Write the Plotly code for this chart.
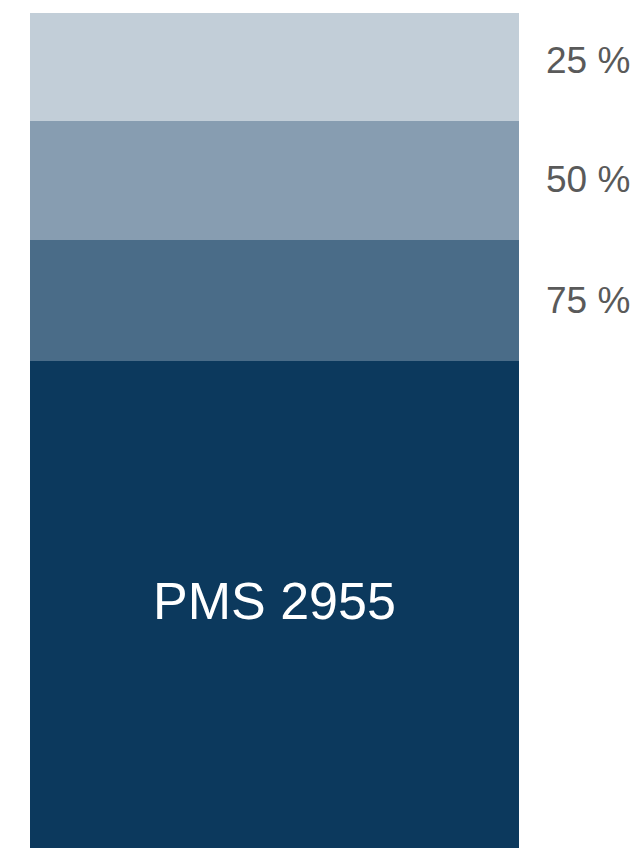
import plotly.graph_objects as go

# Swatch bands (bottom to top): name, relative height, colour
band_labels = ["100 %", "75 %", "50 %", "25 %"]
band_heights = [487, 121, 119, 108]
band_colors = ["#0c395d", "#4a6c88", "#879db1", "#c2ced8"]
swatch_name = "PMS 2955"
side_labels = ["75 %", "50 %", "25 %"]  # printed to the right of the tint bands

fig = go.Figure()
for lab, h, c in zip(band_labels, band_heights, band_colors):
    fig.add_trace(go.Bar(x=[0], y=[h], name=lab, marker=dict(color=c, line=dict(width=0)),
                         width=1, hoverinfo="skip", showlegend=False))

# cumulative positions
cum = []
s = 0
for h in band_heights:
    cum.append(s)
    s += h
total = s

annotations = []
for lab, bottom in zip(side_labels, cum[1:]):
    annotations.append(dict(x=1, xref="paper", xanchor="left", xshift=25,
                            y=bottom, yref="y", yanchor="middle", yshift=61,
                            text=lab, showarrow=False,
                            font=dict(family="Liberation Sans, Arial, sans-serif", size=37, color="#5a5a5a")))
annotations.append(dict(x=0, xref="x", y=cum[0] + band_heights[0] / 2, yref="y",
                        yshift=4, text=swatch_name, showarrow=False,
                        font=dict(family="Liberation Sans, Arial, sans-serif", size=52, color="#ffffff")))

fig.update_layout(
    barmode="stack",
    width=642, height=848,
    margin=dict(l=22, r=131, t=5, b=8, pad=0),
    paper_bgcolor="white", plot_bgcolor="white",
    xaxis=dict(range=[-0.5, 0.5], visible=False, fixedrange=True),
    yaxis=dict(range=[0, total], visible=False, fixedrange=True),
    bargap=0,
    annotations=annotations,
)
fig.write_html("out.html")
